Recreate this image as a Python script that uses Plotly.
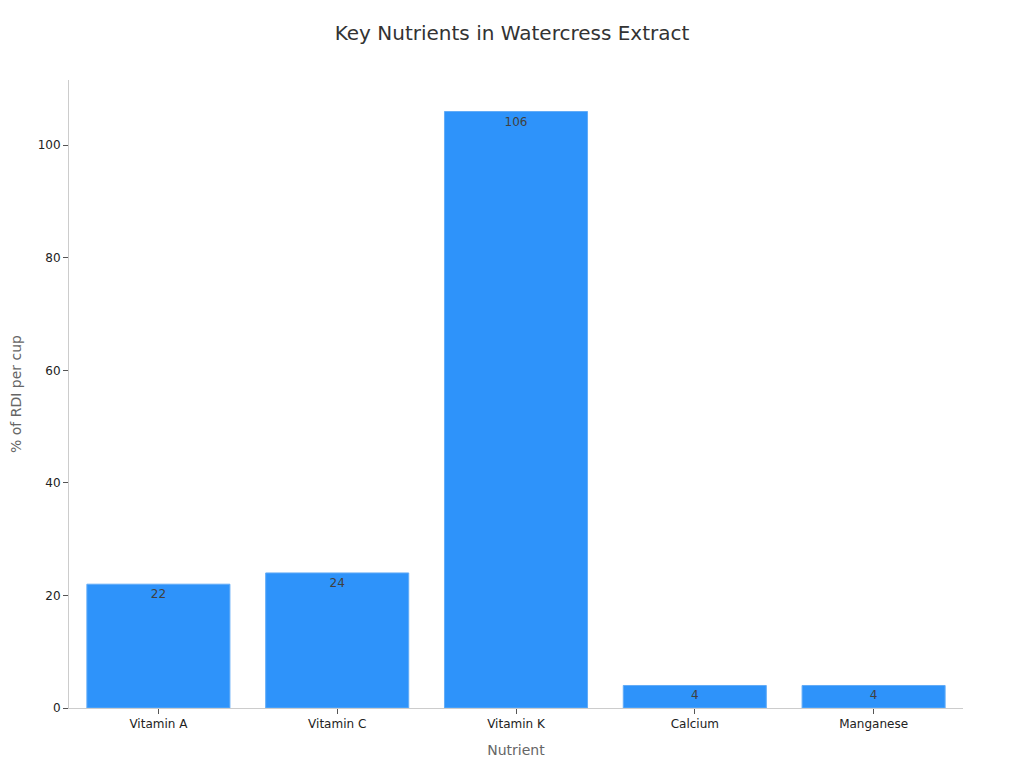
import plotly.graph_objects as go

nutrients = ["Vitamin A", "Vitamin C", "Vitamin K", "Calcium", "Manganese"]
rdi_percent = [22, 24, 106, 4, 4]

fig = go.Figure()
fig.add_trace(go.Bar(
    x=nutrients,
    y=rdi_percent,
    text=[str(v) for v in rdi_percent],
    textposition="inside",
    insidetextanchor="end",
    textfont=dict(family="DejaVu Sans", size=12, color="#404040"),
    marker=dict(color="#2E93FA", line=dict(color="#63ACF7", width=1)),
))

fig.update_layout(
    width=1024, height=768,
    paper_bgcolor="white", plot_bgcolor="white",
    font=dict(family="DejaVu Sans", color="#333333"),
    title=dict(text="Key Nutrients in Watercress Extract", x=0.4922, xanchor="center",
               y=0.9674, yanchor="middle",
               font=dict(size=20, color="#333333", family="DejaVu Sans")),
    margin=dict(l=61, r=69, t=72, b=68, autoexpand=False),
    bargap=0.2,
    showlegend=False,
    xaxis=dict(
        title=dict(text="Nutrient", font=dict(size=14, color="#666666"), standoff=14),
        showline=True, linecolor="#cccccc", linewidth=1,
        ticks="outside", ticklen=5, tickcolor="#555555",
        tickfont=dict(size=12, color="#222222"),
        showgrid=False, automargin=False,
    ),
    yaxis=dict(
        title=dict(text="% of RDI per cup", font=dict(size=14, color="#666666"), standoff=14),
        range=[0, 111.6],
        dtick=20,
        showline=True, linecolor="#cccccc", linewidth=1,
        ticks="outside", ticklen=5, tickcolor="#555555",
        tickfont=dict(size=12, color="#222222"),
        showgrid=False, zeroline=False, automargin=False,
    ),
)

fig.write_html("out.html")
